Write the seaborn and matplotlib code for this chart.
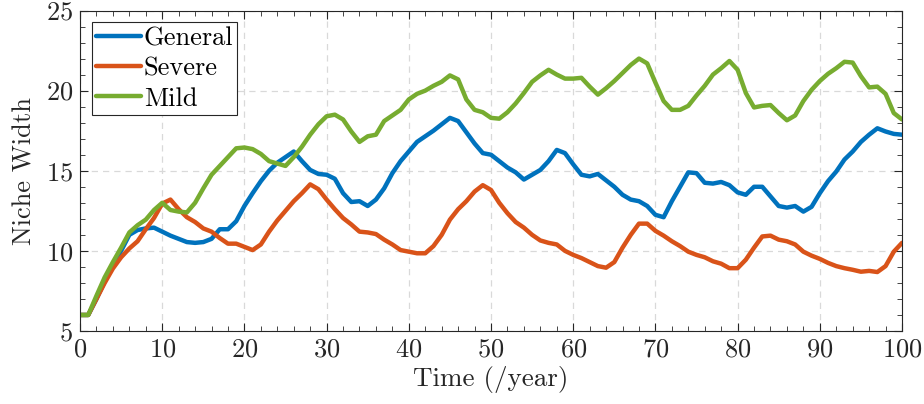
import numpy as np
import pandas as pd
import seaborn as sb
import matplotlib.pyplot as plt
from matplotlib.ticker import MultipleLocator

# niche width over time (one value per year, 0..100)
years = list(range(0, 101))

general = [6.0, 6.0, 7.0, 8.1, 9.1, 10.0, 11.0, 11.3, 11.4, 11.45,
           11.2, 10.95, 10.75, 10.55, 10.5, 10.55, 10.75, 11.35, 11.35, 11.85,
           12.8, 13.6, 14.35, 15.0, 15.5, 15.85, 16.2, 15.6, 15.05, 14.8,
           14.75, 14.5, 13.6, 13.05, 13.1, 12.8, 13.2, 13.9, 14.85, 15.6,
           16.2, 16.8, 17.15, 17.5, 17.9, 18.3, 18.1, 17.4, 16.7, 16.1,
           16.0, 15.6, 15.2, 14.9, 14.45, 14.75, 15.05, 15.6, 16.3, 16.1,
           15.4, 14.75, 14.65, 14.8, 14.4, 14.0, 13.5, 13.2, 13.1, 12.8,
           12.25, 12.1, 13.1, 14.0, 14.9, 14.85, 14.25, 14.2, 14.3, 14.1,
           13.65, 13.5, 14.0, 14.0, 13.4, 12.8, 12.7, 12.8, 12.45, 12.75,
           13.6, 14.35, 14.95, 15.7, 16.2, 16.8, 17.25, 17.65, 17.45, 17.3,
           17.25]

severe = [6.0, 6.0, 7.0, 8.0, 8.9, 9.6, 10.15, 10.6, 11.35, 12.05,
          12.95, 13.2, 12.6, 12.1, 11.8, 11.4, 11.2, 10.8, 10.45, 10.45,
          10.25, 10.05, 10.4, 11.2, 11.9, 12.5, 13.1, 13.6, 14.15, 13.85,
          13.2, 12.6, 12.05, 11.65, 11.2, 11.15, 11.05, 10.7, 10.4, 10.05,
          9.95, 9.85, 9.85, 10.3, 11.0, 11.95, 12.6, 13.1, 13.7, 14.1,
          13.8, 13.0, 12.35, 11.8, 11.45, 11.0, 10.65, 10.5, 10.4, 10.0,
          9.75, 9.55, 9.3, 9.05, 8.95, 9.3, 10.2, 11.0, 11.7, 11.7,
          11.25, 10.95, 10.6, 10.3, 9.95, 9.75, 9.6, 9.35, 9.2, 8.92,
          8.92, 9.45, 10.2, 10.9, 10.95, 10.7, 10.6, 10.4, 9.95, 9.7,
          9.5, 9.25, 9.05, 8.92, 8.82, 8.7, 8.75, 8.68, 9.05, 9.95,
          10.5]

mild = [6.0, 6.0, 7.2, 8.35, 9.3, 10.2, 11.15, 11.6, 11.95, 12.55,
        13.0, 12.55, 12.45, 12.4, 13.0, 13.9, 14.75, 15.3, 15.85, 16.4,
        16.45, 16.35, 16.05, 15.6, 15.45, 15.3, 15.85, 16.5, 17.25, 17.9,
        18.4, 18.5, 18.2, 17.45, 16.8, 17.15, 17.25, 18.1, 18.45, 18.8,
        19.45, 19.8, 20.0, 20.3, 20.55, 20.95, 20.7, 19.45, 18.8, 18.65,
        18.3, 18.25, 18.65, 19.2, 19.85, 20.55, 20.95, 21.3, 21.0, 20.75,
        20.75, 20.8, 20.25, 19.75, 20.15, 20.6, 21.1, 21.6, 22.0, 21.7,
        20.5, 19.35, 18.8, 18.8, 19.05, 19.7, 20.3, 21.0, 21.4, 21.85,
        21.3, 19.85, 18.95, 19.05, 19.1, 18.6, 18.15, 18.45, 19.35, 20.05,
        20.6, 21.05, 21.4, 21.8, 21.75, 20.9, 20.2, 20.25, 19.8, 18.6,
        18.2]

groups = ["General", "Severe", "Mild"]
colors = ["#0072BD", "#D95319", "#77AC30"]

df = pd.DataFrame({
    "time": years * 3,
    "width": general + severe + mild,
    "group": [g for g in groups for _ in years],
})

sb.set_style("ticks")
plt.rcParams["font.family"] = ["cmr10", "DejaVu Serif"]
plt.rcParams["mathtext.fontset"] = "cm"
plt.rcParams["axes.unicode_minus"] = False
plt.rcParams["axes.formatter.use_mathtext"] = True

fig = plt.figure(figsize=(9.24, 4.04), dpi=100)
ax = fig.add_axes([0.0866, 0.1807, 0.8896, 0.7933])

sb.lineplot(data=df, x="time", y="width", hue="group", hue_order=groups,
            palette=colors, linewidth=3.2, ax=ax)

ax.set_xlim(0, 100)
ax.set_ylim(5, 25)
ax.xaxis.set_major_locator(MultipleLocator(10))
ax.xaxis.set_minor_locator(MultipleLocator(2))
ax.yaxis.set_major_locator(MultipleLocator(5))
ax.yaxis.set_minor_locator(MultipleLocator(1))
ax.tick_params(which="both", direction="in", top=True, right=True,
               color="#262626", labelsize=19, labelcolor="#262626")
ax.tick_params(which="major", length=6, width=0.8, pad=5)
ax.tick_params(which="minor", length=3.5, width=0.6)
for s in ax.spines.values():
    s.set_color("#262626")
    s.set_linewidth(0.8)

ax.grid(True, which="major", linestyle=(0, (5, 4)), color="#d9d9d9", linewidth=0.9)
ax.set_axisbelow(True)

ax.set_xlabel("Time (/year)", fontsize=19.5, color="#262626", labelpad=3)
ax.set_ylabel("Niche Width", fontsize=19, color="#262626", labelpad=7)

leg = ax.legend(loc="upper left", fontsize=19, frameon=True, fancybox=False,
                edgecolor="#262626", framealpha=1, borderaxespad=0.45,
                handlelength=1.7, handletextpad=0.12, labelspacing=0.25,
                borderpad=0.15)
leg.get_frame().set_linewidth(0.8)
for t in leg.get_texts():
    t.set_color("#000000")

plt.savefig("out.png", dpi=100)
